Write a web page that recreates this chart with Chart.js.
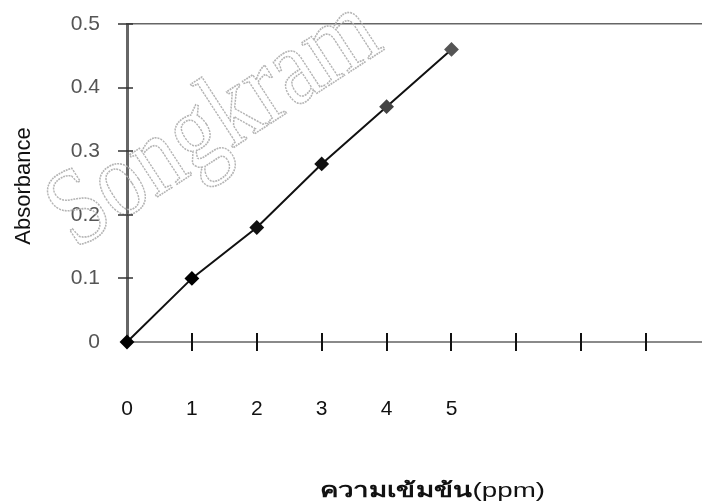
<!DOCTYPE html>
<html>
<head>
<meta charset="utf-8">
<script src="https://cdn.jsdelivr.net/npm/chart.js@4"></script>
<style>
  body { margin: 0; background: #fff; }
  #wrap { width: 702px; height: 504px; position: relative; }
</style>
</head>
<body>
<div id="wrap"><canvas id="chart"></canvas></div>
<script>
// data
const concentration = [0, 1, 2, 3, 4, 5];
const absorbance = [0, 0.1, 0.18, 0.28, 0.37, 0.46];
const xTickValues = [0, 1, 2, 3, 4, 5, 6, 7, 8];
const xLabelValues = [0, 1, 2, 3, 4, 5];
const yTickValues = [0, 0.1, 0.2, 0.3, 0.4, 0.5];

// crossing tick marks + titles + the scan watermark
const decor = {
  id: 'decor',
  beforeDatasetsDraw(chart) {
    const ctx = chart.ctx;
    ctx.save();
    ctx.translate(215, 125);
    ctx.rotate(-33 * Math.PI / 180);
    ctx.scale(0.9, 1.1);
    ctx.font = '100px "Liberation Serif"';
    ctx.textAlign = 'center';
    ctx.textBaseline = 'middle';
    ctx.strokeStyle = '#b4b4b4';
    ctx.lineWidth = 1.5;
    ctx.setLineDash([2, 1]);
    ctx.strokeText('Songkram', 0, 0);
    ctx.restore();
  },
  afterDraw(chart) {
    const ctx = chart.ctx;
    const x = chart.scales.x, y = chart.scales.y;
    ctx.save();
    ctx.strokeStyle = '#111';
    ctx.lineWidth = 2;
    xTickValues.forEach(v => {
      if (v === 0) return;
      const px = Math.round(x.getPixelForValue(v));
      ctx.beginPath();
      ctx.moveTo(px, y.bottom - 9);
      ctx.lineTo(px, y.bottom + 9);
      ctx.stroke();
    });
    ctx.strokeStyle = '#333';
    ctx.lineWidth = 1.5;
    yTickValues.forEach(v => {
      if (v === 0) return;
      const py = Math.round(y.getPixelForValue(v));
      ctx.beginPath();
      ctx.moveTo(x.left - 9, py);
      ctx.lineTo(x.left + 6, py);
      ctx.stroke();
    });

    // y title
    ctx.fillStyle = '#111';
    ctx.save();
    ctx.translate(24, 186);
    ctx.rotate(-Math.PI / 2);
    ctx.font = '22px "Liberation Sans"';
    ctx.textAlign = 'center';
    ctx.textBaseline = 'middle';
    ctx.fillText('Absorbance', 0, 0);
    ctx.restore();

    // x title, thai part bold, scan is a bit stretched sideways
    const t1 = 'ความเข้มข้น', t2 = '(ppm)';
    ctx.textBaseline = 'alphabetic';
    ctx.font = 'bold 20px "Noto Sans", sans-serif';
    const w1 = ctx.measureText(t1).width;
    ctx.font = '20px "Liberation Sans"';
    const w2 = ctx.measureText(t2).width;
    const k = 225 / (w1 + w2);
    ctx.translate(320, 497);
    ctx.scale(k, 1);
    ctx.font = 'bold 20px "Noto Sans", sans-serif';
    ctx.fillText(t1, 0, 0);
    ctx.font = '20px "Liberation Sans"';
    ctx.fillText(t2, w1, 0);
    ctx.restore();
  }
};

new Chart(document.getElementById('chart'), {
  type: 'line',
  data: {
    datasets: [{
      data: concentration.map((c, i) => ({ x: c, y: absorbance[i] })),
      borderColor: '#111',
      borderWidth: 2,
      pointStyle: 'rectRot',
      pointRadius: 6,
      pointBackgroundColor: ['#000', '#000', '#111', '#111', '#444', '#555'],
      pointBorderColor: ['#000', '#000', '#111', '#111', '#444', '#555'],
      tension: 0,
      clip: false
    }]
  },
  options: {
    responsive: true,
    maintainAspectRatio: false,
    animation: false,
    layout: { autoPadding: false, padding: { top: 24, right: 0, left: 0, bottom: 0 } },
    plugins: { legend: { display: false }, tooltip: { enabled: false } },
    scales: {
      x: {
        type: 'linear',
        min: 0,
        max: 8.86,
        afterBuildTicks: s => { s.ticks = xTickValues.map(v => ({ value: v })); },
        afterFit: s => { s.height = 162; s.paddingLeft = 0; s.paddingRight = 0; },
        grid: { display: false, drawTicks: false },
        border: { display: true, color: '#8a8a8a', width: 2 },
        ticks: {
          padding: 55,
          color: '#111',
          font: { family: 'Liberation Sans', size: 21 },
          maxRotation: 0,
          autoSkip: false,
          callback: v => xLabelValues.includes(v) ? String(v) : ''
        }
      },
      y: {
        min: 0,
        max: 0.5,
        afterBuildTicks: s => { s.ticks = yTickValues.map(v => ({ value: v })); },
        afterFit: s => { s.width = 127; s.paddingTop = 0; s.paddingBottom = 0; },
        grid: {
          drawTicks: false,
          color: c => c.tick && c.tick.value === 0.5 ? '#666' : 'rgba(0,0,0,0)',
          lineWidth: 1.5,
          dash: [4, 2]
        },
        border: { display: true, color: '#666', width: 3 },
        ticks: {
          padding: 27,
          color: '#555',
          font: { family: 'Liberation Sans', size: 21 },
          callback: v => String(v)
        }
      }
    }
  },
  plugins: [decor]
});
</script>
</body>
</html>
